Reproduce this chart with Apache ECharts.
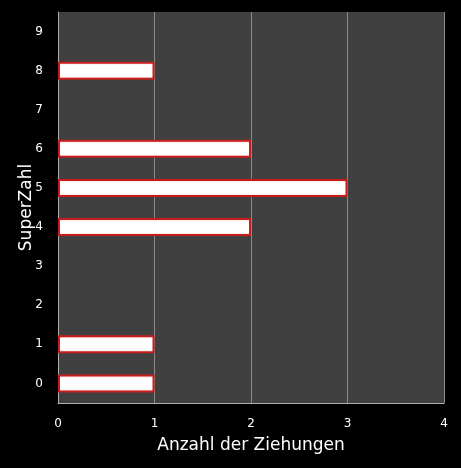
<!DOCTYPE html>
<html><head><meta charset="utf-8">
<script src="https://cdn.jsdelivr.net/npm/echarts@6/dist/echarts.min.js"></script>
<style>html,body{margin:0;padding:0;background:#000;}#c{width:461px;height:468px;}</style>
</head><body><div id="c"></div>
<script>
const categories = ['0','1','2','3','4','5','6','7','8','9'];
const values = [1,1,0,0,2,3,2,0,1,0];
const xTicks = [0,1,2,3,4];
const yName = 'SuperZahl';
const xName = 'Anzahl der Ziehungen';

const chart = echarts.init(document.getElementById('c'));
const font = 'DejaVu Sans, Verdana, sans-serif';
chart.setOption({
  backgroundColor: '#000',
  animation: false,
  grid: {left: 58, right: 17, top: 12, bottom: 65, show: true, backgroundColor: '#404040', borderWidth: 0},
  xAxis: {
    type: 'value', min: xTicks[0], max: xTicks[xTicks.length-1], interval: 1,
    name: xName, nameLocation: 'middle', nameGap: 34, nameMoveOverlap: false,
    nameTextStyle: {color: '#fff', fontSize: 17, fontFamily: font},
    axisLine: {show: true, lineStyle: {color: '#b0b0b0', width: 1}},
    axisTick: {show: false},
    axisLabel: {color: '#fff', fontSize: 12, fontFamily: font, margin: 15},
    splitLine: {show: true, lineStyle: {color: '#8a8a8a', width: 1}}
  },
  yAxis: {
    type: 'category', data: categories,
    name: yName, nameLocation: 'middle', nameGap: 23, nameRotate: 90, nameMoveOverlap: false,
    nameTextStyle: {color: '#fff', fontSize: 17, fontFamily: font},
    axisLine: {show: true, lineStyle: {color: '#b0b0b0', width: 1}},
    axisTick: {show: false},
    axisLabel: {color: '#fff', fontSize: 12, fontFamily: font, margin: 15},
    splitLine: {show: false}
  },
  series: [{
    type: 'bar', data: values.map(v => v === 0 ? '-' : v), barWidth: 18,
    itemStyle: {
      color: {type: 'linear', x: 0, y: 0, x2: 0, y2: 1, colorStops: [
        {offset: 0, color: '#f5c0c0'}, {offset: 0.2, color: '#ffffff'},
        {offset: 0.8, color: '#ffffff'}, {offset: 1, color: '#f5c0c0'}]},
      borderColor: '#c81c1c', borderWidth: 2
    }
  }]
});
</script></body></html>
